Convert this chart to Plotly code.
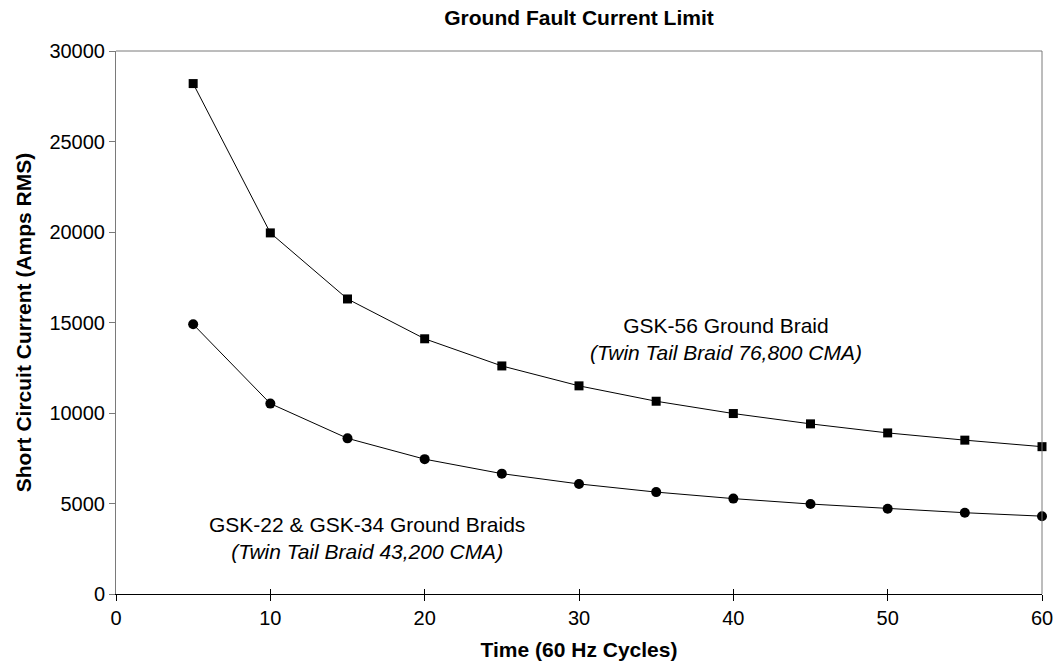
import plotly.graph_objects as go

cycles = [5, 10, 15, 20, 25, 30, 35, 40, 45, 50, 55, 60]
gsk56 = [28200, 19950, 16300, 14100, 12600, 11500, 10650, 9970, 9400, 8900, 8500, 8140]
gsk22_34 = [14900, 10520, 8600, 7450, 6650, 6080, 5630, 5270, 4970, 4710, 4490, 4300]
x_ticks = [0, 10, 20, 30, 40, 50, 60]
y_ticks = [0, 5000, 10000, 15000, 20000, 25000, 30000]

label56 = "GSK-56 Ground Braid<br><i>(Twin Tail Braid 76,800 CMA)</i>"
label22 = "GSK-22 & GSK-34 Ground Braids<br><i>(Twin Tail Braid 43,200 CMA)</i>"

FONT = "Liberation Sans, Arial, Helvetica"
GRAY = "#7a7a7a"

W, H = 1057, 666

fig = go.Figure()
fig.add_trace(go.Scatter(x=cycles, y=gsk56, mode="lines+markers",
                         line=dict(color="black", width=1),
                         marker=dict(symbol="square", size=9, color="black"),
                         cliponaxis=False, showlegend=False, hoverinfo="x+y"))
fig.add_trace(go.Scatter(x=cycles, y=gsk22_34, mode="lines+markers",
                         line=dict(color="black", width=1),
                         marker=dict(symbol="circle", size=10, color="black"),
                         cliponaxis=False, showlegend=False, hoverinfo="x+y"))
# invisible trace on secondary x axis, used only for inward tick marks (crossing ticks)
fig.add_trace(go.Scatter(x=[x_ticks[0], x_ticks[-1]], y=[y_ticks[0], y_ticks[0]], xaxis="x2",
                         mode="markers", marker=dict(opacity=0), showlegend=False,
                         hoverinfo="skip"))

fig.add_annotation(x=39.5, y=14090, xref="x", yref="y", text=label56, showarrow=False,
                   font=dict(family=FONT, size=21, color="black"), align="center")
fig.add_annotation(x=16.26, y=3080, xref="x", yref="y", text=label22, showarrow=False,
                   font=dict(family=FONT, size=21, color="black"), align="center")

fig.update_layout(
    width=W, height=H,
    paper_bgcolor="white", plot_bgcolor="white",
    margin=dict(l=116, r=15, t=51, b=72),
    title=dict(text="<b>Ground Fault Current Limit</b>", x=0.5, xanchor="center",
               xref="paper", y=1 - 18 / H, yanchor="middle",
               font=dict(family=FONT, size=21, color="black")),
    font=dict(family=FONT, color="black"),
    xaxis=dict(range=[0, 60], tickvals=x_ticks, ticks="outside", ticklen=6,
               tickcolor="black", tickfont=dict(size=20), showgrid=False, zeroline=False,
               showline=True, linecolor="black", linewidth=1, automargin=False,
               title=dict(text="<b>Time (60 Hz Cycles)</b>", font=dict(size=21), standoff=14)),
    xaxis2=dict(range=[0, 60], tickvals=x_ticks, ticks="inside", ticklen=5,
                tickcolor="black", showticklabels=False, showgrid=False, zeroline=False,
                overlaying="x", anchor="y", side="bottom", showline=False, automargin=False),
    yaxis=dict(range=[0, 30000], tickvals=y_ticks, tickformat="d", ticks="outside", ticklen=6,
               tickcolor=GRAY, tickfont=dict(size=20), showgrid=False, zeroline=False,
               showline=True, linecolor=GRAY, linewidth=1, automargin=False,
               title=dict(text="<b>Short Circuit Current (Amps RMS)</b>", font=dict(size=21),
                          standoff=12)),
)
# frame top/right
fig.add_shape(type="line", xref="paper", yref="paper", x0=0, x1=1, y0=1, y1=1,
              line=dict(color=GRAY, width=1))
fig.add_shape(type="line", xref="paper", yref="paper", x0=1, x1=1, y0=0, y1=1,
              line=dict(color=GRAY, width=1))

fig.write_html("out.html", config={"displayModeBar": False},
               post_script="document.body.style.margin='0';document.body.style.overflow='hidden';")
